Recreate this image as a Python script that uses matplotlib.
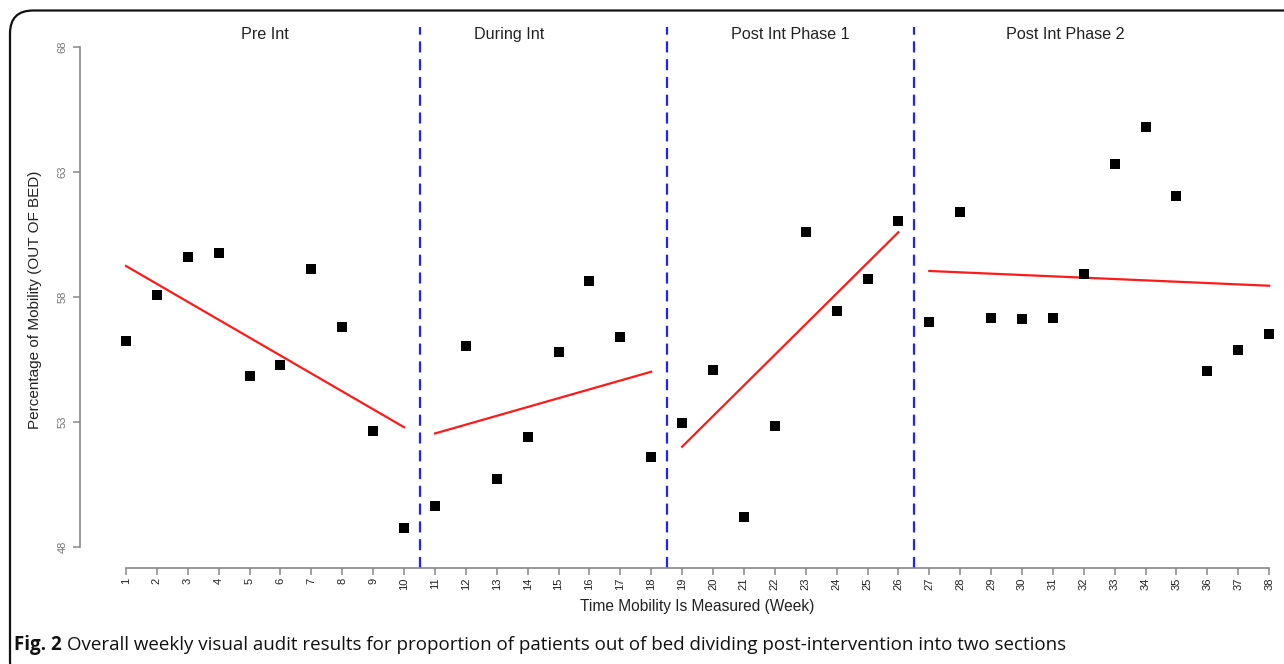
import matplotlib
matplotlib.use("Agg")
import matplotlib.pyplot as plt
from matplotlib.patches import FancyBboxPatch
import numpy as np

# ---- data ----
weeks = list(range(1, 39))
mobility = [56.23, 58.06, 59.60, 59.75, 54.82, 55.28, 59.10, 56.80, 52.64, 48.74,
            49.64, 56.04, 50.72, 52.37, 55.77, 58.62, 56.40, 51.59,
            52.96, 55.07, 49.19, 52.83, 60.60, 57.43, 58.72, 61.04,
            56.99, 61.38, 57.13, 57.12, 57.13, 58.91, 63.30, 64.78, 62.02, 55.02, 55.86, 56.50]
phase_names = ["Pre Int", "During Int", "Post Int Phase 1", "Post Int Phase 2"]
phase_label_x = [5.5, 13.4, 22.5, 31.4]
phase_start = [1, 11, 19, 27]
phase_end = [10, 18, 26, 38]
trend_start = [59.23, 52.53, 52.00, 59.03]
trend_end = [52.78, 55.00, 60.58, 58.44]
breaks = [10.5, 18.5, 26.5]
yticks = [48, 53, 58, 63, 68]

W, H = 1284, 664
fig = plt.figure(figsize=(W / 100, H / 100), dpi=100)
fig.patch.set_facecolor("white")

# rounded frame
frame = FancyBboxPatch((10 / W, -20 / H), (W + 40) / W, (H - 10.5 + 20) / H,
                       boxstyle="round,pad=0,rounding_size=0.018",
                       transform=fig.transFigure, fill=False, edgecolor="#111111",
                       linewidth=1.6, mutation_aspect=W / H, clip_on=False)
fig.patches.append(frame)

ax_left, ax_right = 80, 1284
ax_top, ax_bot = 27, 567.7
ax = fig.add_axes([ax_left / W, 1 - ax_bot / H, (ax_right - ax_left) / W, (ax_bot - ax_top) / H])
ax.set_xlim(-0.489, 38.48)
ax.set_ylim(47.16, 68.79)

for s in ["top", "right"]:
    ax.spines[s].set_visible(False)
for s in ["left", "bottom"]:
    ax.spines[s].set_color("#888888")
    ax.spines[s].set_linewidth(1.2)
ax.spines["left"].set_bounds(48, 68)
ax.spines["bottom"].set_bounds(1, 38)

ax.set_xticks(weeks)
ax.set_xticklabels([str(w) for w in weeks], rotation=90, fontsize=8,
                   family="Liberation Sans", color="#222222")
ax.set_yticks(yticks)
ax.set_yticklabels([str(v) for v in yticks], rotation=90, fontsize=8,
                   family="Liberation Sans", color="#777777", va="center")
ax.tick_params(axis="both", color="#888888", length=5, width=1.1)
ax.tick_params(axis="x", pad=2)
ax.tick_params(axis="y", pad=4)

ax.scatter(weeks, mobility, marker="s", s=48, color="black", zorder=3, linewidths=0)

for xs, xe, ys, ye in zip(phase_start, phase_end, trend_start, trend_end):
    ax.plot([xs, xe], [ys, ye], color="#ff1a1a", linewidth=1.6, zorder=2)

for b in breaks:
    ax.axvline(b, color="#2222ff", linewidth=1.6, linestyle=(0, (5, 3)), zorder=1)

for name, xp in zip(phase_names, phase_label_x):
    ax.text(xp, 68.47, name, ha="center", va="center", fontsize=11.6,
            family="Liberation Sans", color="#222222")

fig.text(35 / W, 1 - 300 / H, "Percentage of Mobility (OUT OF BED)", rotation=90,
         ha="center", va="center", fontsize=11, family="Liberation Sans", color="#222222")
fig.text(697 / W, 1 - 607 / H, "Time Mobility Is Measured (Week)",
         ha="center", va="center", fontsize=11.2, family="Liberation Sans", color="#222222")

# caption
cap_y = 1 - 645 / H
t1 = fig.text(14 / W, cap_y, "Fig. 2", ha="left", va="center", fontsize=13.5,
              family="Open Sans", fontweight="bold", color="#111111")
fig.canvas.draw()
r = fig.canvas.get_renderer()
bb = t1.get_window_extent(r)
fig.text((bb.x1 + 5) / W, cap_y,
         "Overall weekly visual audit results for proportion of patients out of bed dividing post-intervention into two sections",
         ha="left", va="center", fontsize=13.5, family="Open Sans", color="#111111")

fig.savefig("out.png", dpi=100)
